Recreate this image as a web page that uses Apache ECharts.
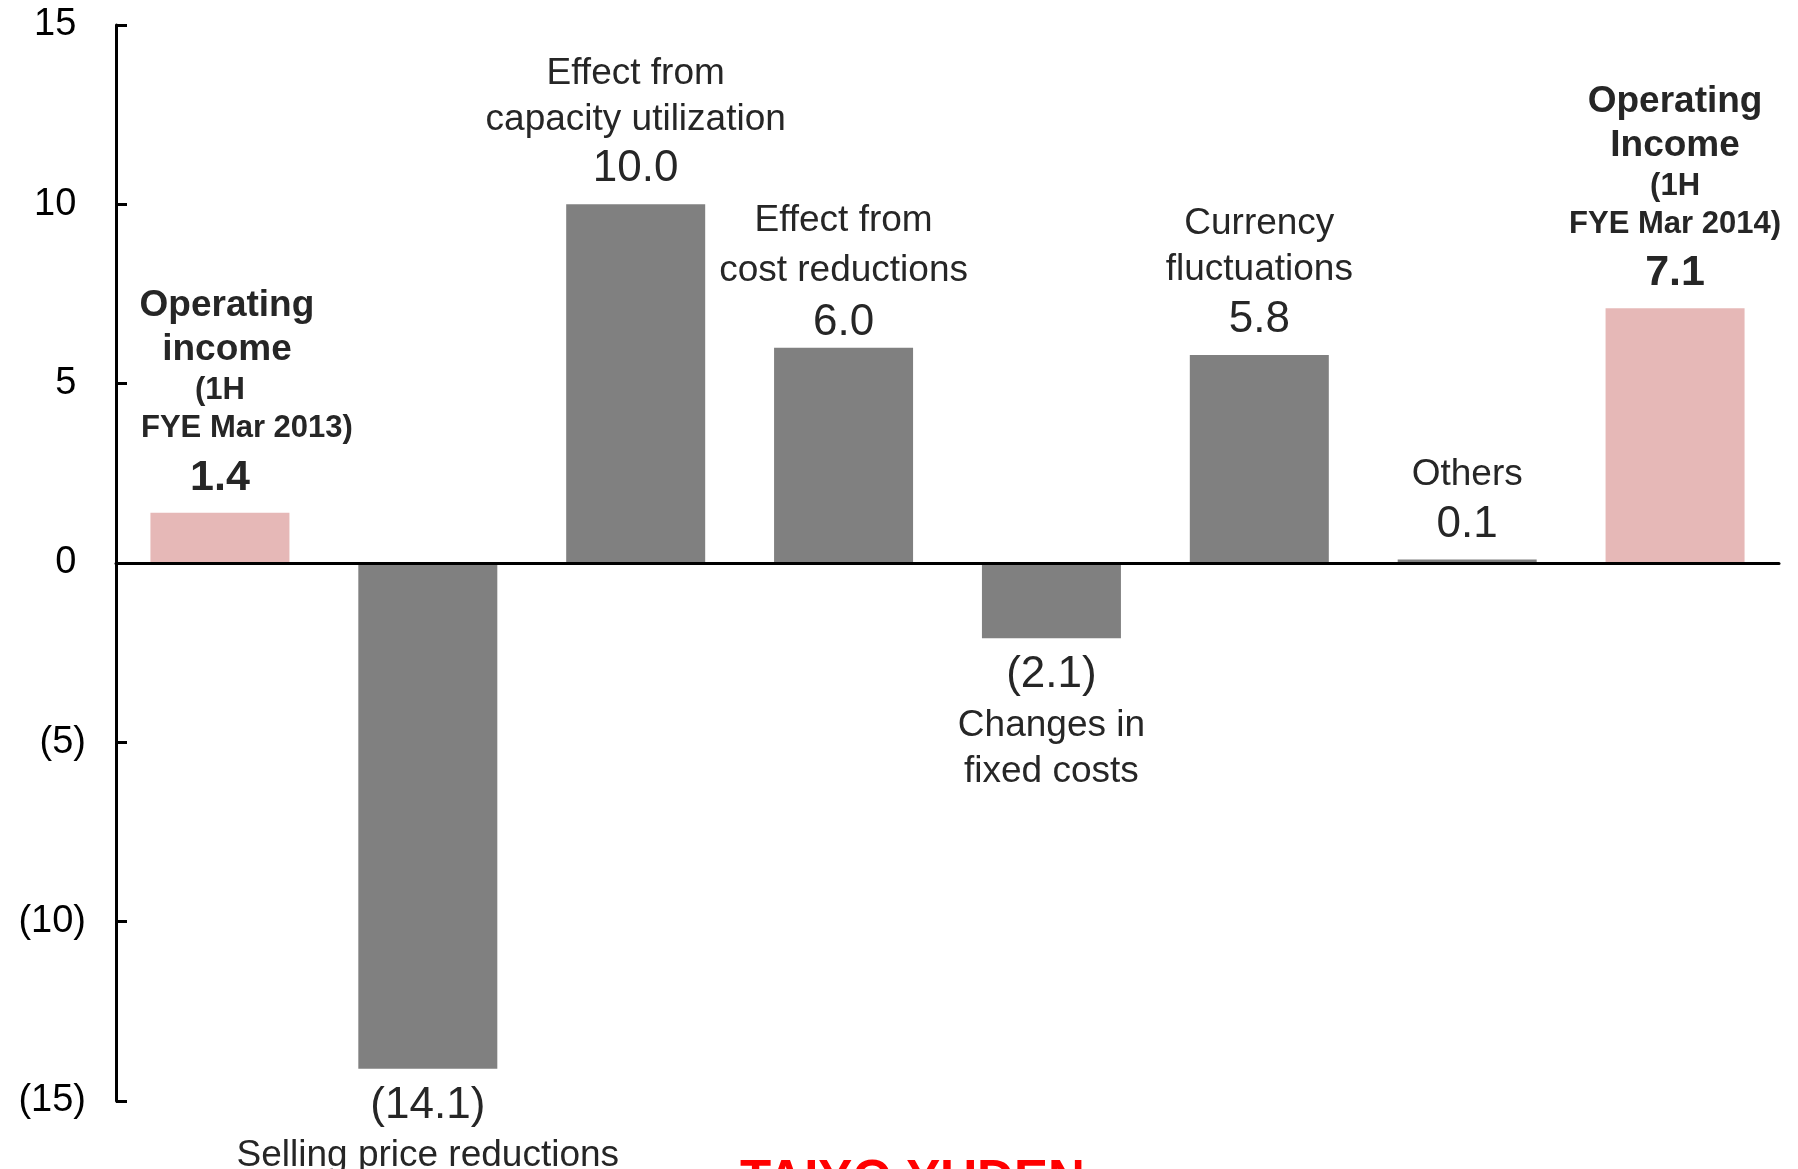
<!DOCTYPE html>
<html>
<head>
<meta charset="utf-8">
<title>Operating income bridge</title>
<script src="https://cdn.jsdelivr.net/npm/echarts@6/dist/echarts.min.js"></script>
<style>
  html, body { margin: 0; padding: 0; background: #ffffff; }
  #chart { width: 1798px; height: 1169px; }
</style>
</head>
<body>
<div id="chart"></div>
<script>
// Factors behind the change in operating income (billion yen)
const categories = [
  'Operating income (1H FYE Mar 2013)',
  'Selling price reductions',
  'Effect from capacity utilization',
  'Effect from cost reductions',
  'Changes in fixed costs',
  'Currency fluctuations',
  'Others',
  'Operating Income (1H FYE Mar 2014)'
];
const labelLines = [
  ['Operating', 'income', '(1H', 'FYE Mar 2013)'],
  ['Selling price reductions'],
  ['Effect from', 'capacity utilization'],
  ['Effect from', 'cost reductions'],
  ['Changes in', 'fixed costs'],
  ['Currency', 'fluctuations'],
  ['Others'],
  ['Operating', 'Income', '(1H', 'FYE Mar 2014)']
];
const values = [1.4, -14.1, 10.0, 6.0, -2.1, 5.8, 0.1, 7.1];
const isTotal = [true, false, false, false, false, false, false, true];
const yTicks = [-15, -10, -5, 0, 5, 10, 15];
const footerText = 'TAIYO YUDEN';

const FONT = "'Liberation Sans', Arial, Helvetica, sans-serif";
const TEXT = '#262626';
const GRAY = '#808080';
const PINK = '#E6B8B7';

// label spacing per bar: gap to the bar end, and whether name lines are spread wider
const LABEL_GAP = { total: 5, up: 8, down: 10 };
const WIDE_NAME_BARS = [3];

function fmtValue(v) {
  return v < 0 ? '(' + Math.abs(v).toFixed(1) + ')' : v.toFixed(1);
}

function buildLabel(i) {
  const v = values[i];
  const lines = labelLines[i];
  if (isTotal[i]) {
    const parts = lines.map(function (t, k) {
      // the first total's caption leans a little to the right of its bar
      if (k < 2) return (i === 0 ? '{tbs|' : '{tb|') + t + '}';
      if (i === 0 && k === 3) return '{tss|' + t + '}';
      return '{ts|' + t + '}';
    });
    parts.push('{tv|' + fmtValue(v) + '}');
    return parts.join('\n');
  }
  const nameStyle = WIDE_NAME_BARS.indexOf(i) >= 0 ? 'nw' : 'n';
  const names = lines.map(function (t) { return '{' + nameStyle + '|' + t + '}'; });
  const val = '{v|' + fmtValue(v) + '}';
  return v < 0 ? [val].concat(names).join('\n') : names.concat([val]).join('\n');
}

const labelRich = {
  n:   { fontFamily: FONT, fontSize: 37, lineHeight: 46, color: TEXT },
  nw:  { fontFamily: FONT, fontSize: 37, lineHeight: 50, color: TEXT },
  v:   { fontFamily: FONT, fontSize: 44, lineHeight: 54, color: TEXT },
  tb:  { fontFamily: FONT, fontSize: 37, fontWeight: 'bold', lineHeight: 44, color: TEXT },
  tbs: { fontFamily: FONT, fontSize: 37, fontWeight: 'bold', lineHeight: 44, color: TEXT, padding: [0, 0, 0, 14] },
  ts:  { fontFamily: FONT, fontSize: 31, fontWeight: 'bold', lineHeight: 38, color: TEXT },
  tss: { fontFamily: FONT, fontSize: 31, fontWeight: 'bold', lineHeight: 38, color: TEXT, padding: [0, 0, 0, 54] },
  tv:  { fontFamily: FONT, fontSize: 43, fontWeight: 'bold', lineHeight: 60, color: TEXT }
};

const barData = values.map(function (v, i) {
  let gap = isTotal[i] ? LABEL_GAP.total : (v < 0 ? LABEL_GAP.down : LABEL_GAP.up);
  if (WIDE_NAME_BARS.indexOf(i) >= 0) gap = -2;
  return {
    value: v,
    itemStyle: { color: isTotal[i] ? PINK : GRAY },
    label: {
      show: true,
      position: v < 0 ? 'bottom' : 'top',
      distance: gap,
      formatter: buildLabel(i),
      rich: labelRich
    }
  };
});

const chart = echarts.init(document.getElementById('chart'), null, { renderer: 'canvas' });

chart.setOption({
  animation: false,
  backgroundColor: '#ffffff',
  grid: { left: 116, right: 19, top: 25, bottom: 68, containLabel: false, outerBoundsMode: 'none' },
  xAxis: {
    type: 'category',
    data: categories,
    z: 5,
    axisLine: { show: true, onZero: true, lineStyle: { color: '#000000', width: 3 } },
    axisTick: { show: false },
    axisLabel: { show: false },
    splitLine: { show: false }
  },
  yAxis: {
    type: 'value',
    min: yTicks[0],
    max: yTicks[yTicks.length - 1],
    interval: yTicks[1] - yTicks[0],
    axisLine: { show: true, lineStyle: { color: '#000000', width: 3 } },
    axisTick: { show: true, inside: true, length: 11, lineStyle: { color: '#000000', width: 3 } },
    splitLine: { show: false },
    axisLabel: {
      margin: 30,
      fontFamily: FONT,
      fontSize: 38,
      color: '#000000',
      formatter: function (v) {
        if (v < 0) return '(' + (-v) + ')';
        return v + '{g|)}';
      },
      rich: {
        // invisible bracket keeps positive numbers aligned with the bracketed ones
        g: { fontFamily: FONT, fontSize: 29, color: 'rgba(0,0,0,0)' }
      }
    }
  },
  series: [{
    type: 'bar',
    barWidth: 139,
    data: barData,
    z: 2
  }],
  graphic: [{
    type: 'text',
    left: 740,
    top: 1156,
    silent: true,
    style: {
      text: footerText,
      fontFamily: FONT,
      fontSize: 51,
      fontWeight: 'bold',
      fill: '#FF0000'
    }
  }]
});
</script>
</body>
</html>
